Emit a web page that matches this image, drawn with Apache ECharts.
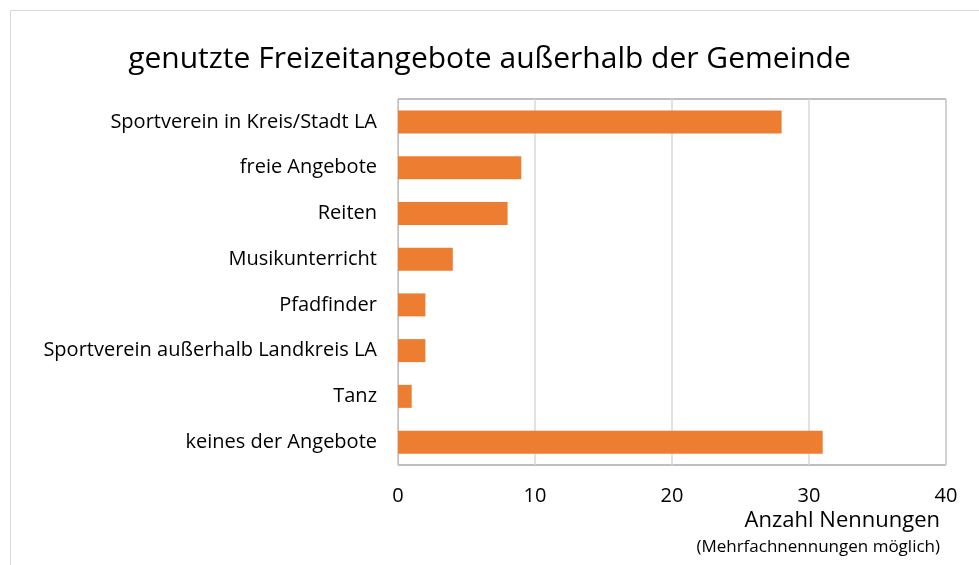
<!DOCTYPE html>
<html>
<head>
<meta charset="utf-8">
<script src="https://cdn.jsdelivr.net/npm/echarts@6/dist/echarts.min.js"></script>
<style>
html, body { margin: 0; padding: 0; background: #fff; }
#chart { width: 979px; height: 565px; }
</style>
</head>
<body>
<div id="chart"></div>
<script>
// Kategorien von oben nach unten
const categories = [
    'Sportverein in Kreis/Stadt LA',
    'freie Angebote',
    'Reiten',
    'Musikunterricht',
    'Pfadfinder',
    'Sportverein außerhalb Landkreis LA',
    'Tanz',
    'keines der Angebote'
]
const nennungen = [28, 9, 8, 4, 2, 2, 1, 31]
const xTicks = [0, 10, 20, 30, 40]

let myChart = echarts.init(document.getElementById('chart'))
const font = '"Open Sans", "Noto Sans", sans-serif'

let option = {
    backgroundColor: '#fff',
    animation: false,
    textStyle: { fontFamily: font },
    title: {
        text: 'genutzte Freizeitangebote außerhalb der Gemeinde',
        left: 'center',
        top: 39,
        textStyle: { fontFamily: font, fontSize: 30, fontWeight: 'normal', color: '#000' }
    },
    graphic: [
        {
            type: 'rect',
            shape: { x: 10.5, y: 10.5, width: 1000, height: 600 },
            style: { fill: 'none', stroke: '#d9d9d9', lineWidth: 1 },
            silent: true
        },
        {
            type: 'text',
            x: 940, y: 521,
            style: { text: 'Anzahl Nennungen', font: '22px ' + font, fill: '#000', align: 'right', verticalAlign: 'middle' }
        },
        {
            type: 'text',
            x: 940, y: 547,
            style: { text: '(Mehrfachnennungen möglich)', font: '17px ' + font, fill: '#000', align: 'right', verticalAlign: 'middle' }
        }
    ],
    grid: {
        left: 398, right: 33, top: 99, bottom: 100,
        show: true,
        borderColor: '#7f7f7f',
        borderWidth: 1
    },
    xAxis: {
        type: 'value',
        min: 0, max: 40, interval: 10,
        axisLine: { show: false },
        axisTick: { show: false },
        splitLine: { lineStyle: { color: '#d9d9d9', width: 1.5 } },
        axisLabel: {
            fontSize: 20, color: '#000', margin: 21,
            formatter: v => xTicks.includes(v) ? String(v) : ''
        }
    },
    yAxis: {
        type: 'category',
        inverse: true,
        data: categories,
        axisLine: { show: true, lineStyle: { color: '#bfbfbf' } },
        axisTick: { show: false },
        axisLabel: { fontSize: 20, color: '#000', margin: 21 }
    },
    series: [
        {
            name: 'Nennungen',
            type: 'bar',
            data: nennungen,
            barWidth: 23,
            itemStyle: { color: '#ed7d31' }
        }
    ]
}
myChart.setOption(option)

window.addEventListener('resize', () => {
    myChart.resize()
})
</script>
</body>
</html>
